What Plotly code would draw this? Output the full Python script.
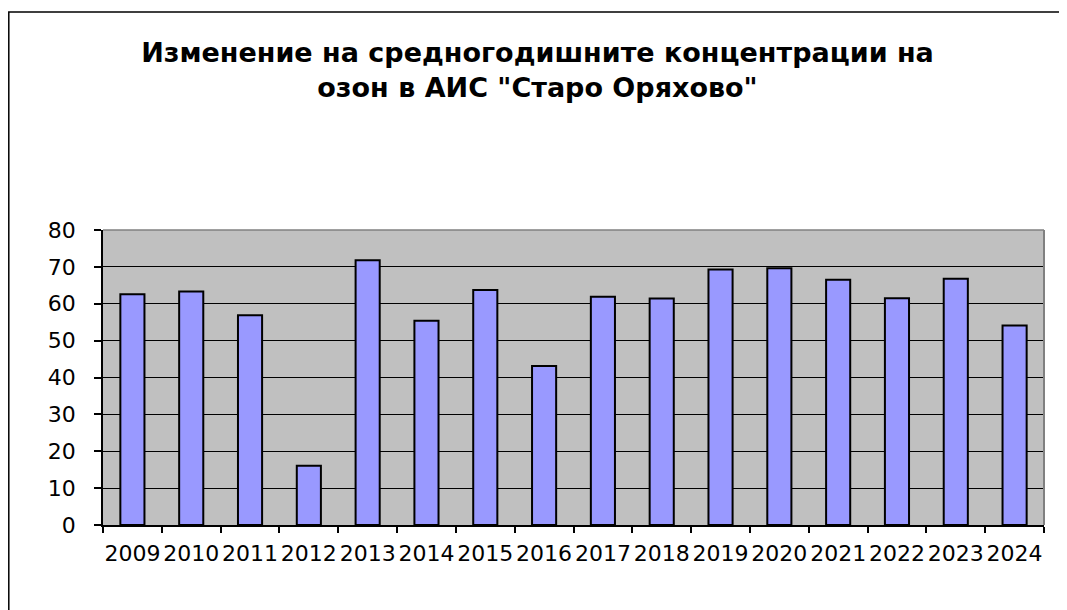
import plotly.graph_objects as go

years = ["2009", "2010", "2011", "2012", "2013", "2014", "2015", "2016",
         "2017", "2018", "2019", "2020", "2021", "2022", "2023", "2024"]
ozone = [62.6, 63.3, 56.9, 16.1, 71.8, 55.4, 63.7, 43.1,
         61.9, 61.4, 69.3, 69.6, 66.5, 61.5, 66.8, 54.1]
y_ticks = [0, 10, 20, 30, 40, 50, 60, 70, 80]
title_text = "Изменение на средногодишните концентрации на<br>озон в АИС \"Старо Оряхово\""

# page has an 8px body margin; the figure is sized to fit the window
W, H = 1059, 602
ml, mr, mt, mb = 95, 23, 222, 85
pw, ph = W - ml - mr, H - mt - mb

fig = go.Figure()
fig.add_trace(go.Bar(
    x=years, y=ozone,
    marker=dict(color="#9999FF", line=dict(color="black", width=2)),
    showlegend=False, hoverinfo="x+y",
))

def px_x(p):
    return (p - ml) / pw

def px_y(p):
    return (H - mb - p) / ph

fig.update_layout(
    width=W, height=H,
    margin=dict(l=ml, r=mr, t=mt, b=mb, autoexpand=False),
    paper_bgcolor="white",
    plot_bgcolor="#C0C0C0",
    bargap=0.59,
    title=dict(
        text=title_text,
        font=dict(family="DejaVu Sans", size=27, color="black", weight="bold"),
        x=0.5, xanchor="center", xref="container",
        y=1 - 54 / H, yanchor="middle", yref="container",
    ),
    xaxis=dict(
        type="category",
        showgrid=False,
        showline=True, linecolor="black", linewidth=1.5,
        ticks="outside", tickson="boundaries", ticklen=6, tickcolor="black", tickwidth=1.5,
        tickfont=dict(family="DejaVu Sans", size=22, color="black"),
        tickangle=0,
        ticklabelstandoff=8,
    ),
    yaxis=dict(
        range=[0, 80],
        tickvals=y_ticks,
        showgrid=True, gridcolor="black", gridwidth=1,
        showline=True, linecolor="black", linewidth=1.5,
        ticks="outside", ticklen=7, tickcolor="black", tickwidth=1.5,
        tickfont=dict(family="DejaVu Sans", size=22, color="black"),
        ticklabelstandoff=14,
        zeroline=False,
    ),
    shapes=[
        dict(type="line", xref="paper", yref="paper", x0=0, x1=1, y0=1, y1=1,
             line=dict(color="#808080", width=1.5), layer="above"),
        dict(type="line", xref="paper", yref="paper", x0=1, x1=1, y0=0, y1=1,
             line=dict(color="#808080", width=2), layer="above"),
        dict(type="rect", xref="paper", yref="paper",
             x0=px_x(0.8), x1=px_x(W + 10), y0=px_y(H + 10), y1=px_y(4),
             line=dict(color="black", width=1.5), fillcolor="rgba(0,0,0,0)", layer="below"),
    ],
)

fig.write_html("out.html")
